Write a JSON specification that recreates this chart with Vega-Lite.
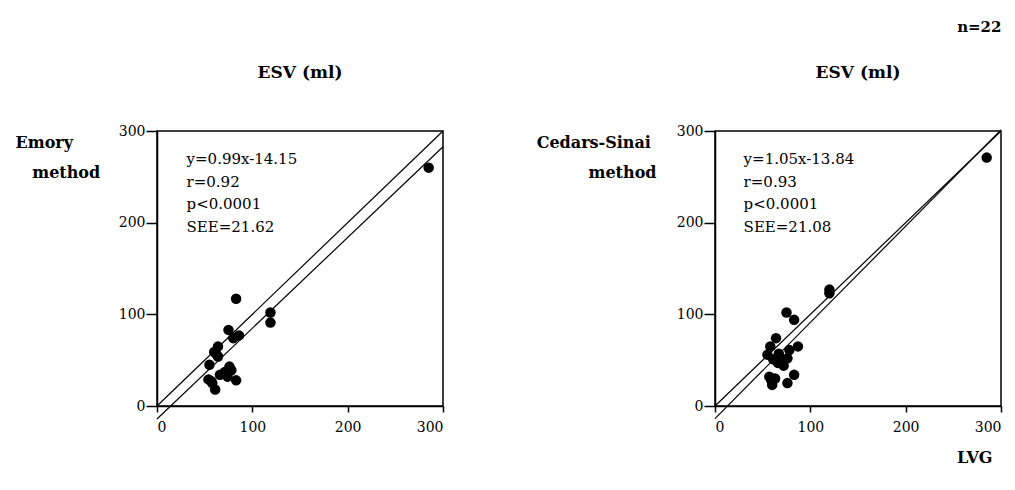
{
  "$schema": "https://vega.github.io/schema/vega-lite/v6.json",
  "background": "white",
  "padding": {"left": 14, "top": 20, "right": 3, "bottom": 5},
  "title": {"text": "n=22", "anchor": "end", "font": "DejaVu Serif", "fontSize": 15, "fontWeight": "bold", "color": "black", "offset": 28, "dx": -1},
  "spacing": 90,
  "config": {
    "view": {"stroke": "black", "strokeWidth": 1.5},
    "title": {"font": "DejaVu Serif", "fontSize": 17, "fontWeight": "bold", "color": "black", "offset": 42},
    "axis": {"domainColor": "black", "domainWidth": 1.5, "tickColor": "black", "tickWidth": 1.5, "labelFont": "DejaVu Serif", "labelFontSize": 14, "labelColor": "black", "grid": false, "titleFont": "DejaVu Serif", "titleFontSize": 16, "titleFontWeight": "bold", "titleColor": "black"},
    "axisX": {"tickSize": 6, "labelPadding": 8},
    "axisY": {"tickSize": 11, "labelPadding": 1}
  },
  "datasets": {
    "emory": [
      {"lvg": 285, "esv": 260}, {"lvg": 83, "esv": 117}, {"lvg": 119, "esv": 102}, {"lvg": 119, "esv": 91},
      {"lvg": 75, "esv": 83}, {"lvg": 86, "esv": 77}, {"lvg": 80, "esv": 74}, {"lvg": 64, "esv": 65},
      {"lvg": 60, "esv": 59}, {"lvg": 64, "esv": 54}, {"lvg": 62, "esv": 57}, {"lvg": 55, "esv": 45},
      {"lvg": 76, "esv": 43}, {"lvg": 71, "esv": 37}, {"lvg": 74, "esv": 32}, {"lvg": 83, "esv": 28},
      {"lvg": 54, "esv": 29}, {"lvg": 58, "esv": 25}, {"lvg": 61, "esv": 18}, {"lvg": 66, "esv": 34},
      {"lvg": 78, "esv": 39}, {"lvg": 57, "esv": 27}
    ],
    "cedars": [
      {"lvg": 285, "esv": 271}, {"lvg": 120, "esv": 127}, {"lvg": 120, "esv": 123}, {"lvg": 75, "esv": 102},
      {"lvg": 83, "esv": 94}, {"lvg": 64, "esv": 74}, {"lvg": 58, "esv": 65}, {"lvg": 87, "esv": 65},
      {"lvg": 78, "esv": 61}, {"lvg": 55, "esv": 56}, {"lvg": 61, "esv": 51}, {"lvg": 69, "esv": 51},
      {"lvg": 76, "esv": 52}, {"lvg": 72, "esv": 44}, {"lvg": 57, "esv": 32}, {"lvg": 63, "esv": 30},
      {"lvg": 60, "esv": 23}, {"lvg": 76, "esv": 25}, {"lvg": 83, "esv": 34}, {"lvg": 67, "esv": 57},
      {"lvg": 59, "esv": 28}, {"lvg": 66, "esv": 47}
    ],
    "lines_e": [
      {"line": "identity", "xa": 0, "ya": 0, "xb": 300, "yb": 300},
      {"line": "fit", "xa": 0, "ya": -14.15, "xb": 300, "yb": 282.85}
    ],
    "lines_c": [
      {"line": "identity", "xa": 0, "ya": 0, "xb": 300, "yb": 300},
      {"line": "fit", "xa": 0, "ya": -13.84, "xb": 300, "yb": 301.16}
    ],
    "stats_e": [{"stats": "y=0.99x-14.15\nr=0.92\np<0.0001\nSEE=21.62"}],
    "stats_c": [{"stats": "y=1.05x-13.84\nr=0.93\np<0.0001\nSEE=21.08"}]
  },
  "hconcat": [
    {
      "width": 286, "height": 275,
      "title": "ESV (ml)",
      "layer": [
        {
          "data": {"name": "lines_e"},
          "mark": {"type": "rule", "clip": false, "color": "black", "strokeWidth": 1.2},
          "encoding": {
            "x": {"field": "xa", "type": "quantitative", "scale": {"domain": [0, 300], "nice": false}, "axis": {"title": null, "values": [0, 100, 200, 300]}},
            "y": {"field": "ya", "type": "quantitative", "scale": {"domain": [0, 300], "nice": false}, "axis": {"values": [0, 100, 200, 300], "title": ["Emory", "\u200b\u00a0\u00a0\u00a0method"], "titleAngle": 0, "titleAlign": "left", "titleBaseline": "top", "titleX": -142, "titleY": 3, "titleLineHeight": 30}},
            "x2": {"field": "xb"},
            "y2": {"field": "yb"}
          }
        },
        {
          "data": {"name": "emory"},
          "mark": {"type": "circle", "size": 110, "opacity": 1, "color": "black"},
          "encoding": {"x": {"field": "lvg", "type": "quantitative"}, "y": {"field": "esv", "type": "quantitative"}}
        },
        {
          "data": {"name": "stats_e"},
          "mark": {"type": "text", "align": "left", "baseline": "top", "lineBreak": "\n", "lineHeight": 22.7, "font": "DejaVu Serif", "fontSize": 15, "color": "black"},
          "encoding": {"x": {"datum": 31}, "y": {"datum": 277}, "text": {"field": "stats"}}
        }
      ]
    },
    {
      "width": 286, "height": 275,
      "title": "ESV (ml)",
      "layer": [
        {
          "data": {"name": "lines_c"},
          "mark": {"type": "rule", "clip": false, "color": "black", "strokeWidth": 1.2},
          "encoding": {
            "x": {"field": "xa", "type": "quantitative", "scale": {"domain": [0, 300], "nice": false}, "axis": {"values": [0, 100, 200, 300], "title": "LVG", "titleAlign": "right", "titleBaseline": "middle", "titleX": 277, "titleY": 51}},
            "y": {"field": "ya", "type": "quantitative", "scale": {"domain": [0, 300], "nice": false}, "axis": {"values": [0, 100, 200, 300], "title": ["Cedars-Sinai\u00a0\u200b", "method"], "titleAngle": 0, "titleAlign": "right", "titleBaseline": "top", "titleX": -59, "titleY": 3, "titleLineHeight": 30}},
            "x2": {"field": "xb"},
            "y2": {"field": "yb"}
          }
        },
        {
          "data": {"name": "cedars"},
          "mark": {"type": "circle", "size": 110, "opacity": 1, "color": "black"},
          "encoding": {"x": {"field": "lvg", "type": "quantitative"}, "y": {"field": "esv", "type": "quantitative"}}
        },
        {
          "data": {"name": "stats_c"},
          "mark": {"type": "text", "align": "left", "baseline": "top", "lineBreak": "\n", "lineHeight": 22.7, "font": "DejaVu Serif", "fontSize": 15, "color": "black"},
          "encoding": {"x": {"datum": 30}, "y": {"datum": 277}, "text": {"field": "stats"}}
        }
      ]
    }
  ]
}
